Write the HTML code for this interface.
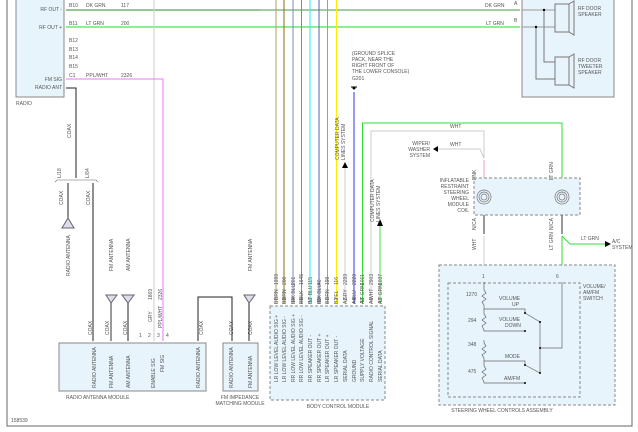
<!DOCTYPE html>
<html><head><meta charset="utf-8"><style>
html,body{margin:0;padding:0;background:#fff;}
svg{display:block;font-family:"Liberation Sans",sans-serif;}
text{font-size:5px;fill:#555;}
</style></head><body>
<svg width="638" height="432" viewBox="0 0 638 432" xmlns="http://www.w3.org/2000/svg">
<polyline points="7,0 7,426 632,426 632,0" fill="none" stroke="#666" stroke-width="1"/>
<rect x="16" y="-2" width="48" height="99" fill="#e8f4fc" stroke="#888"/>
<text x="16" y="105">RADIO</text>
<g text-anchor="end"><text x="62" y="11">RF OUT -</text><text x="62" y="29">RF OUT +</text><text x="62" y="81">FM SIG</text><text x="62" y="89">RADIO ANT</text></g>
<text x="69" y="7">B10</text><text x="86" y="7">DK GRN</text><text x="121" y="7">117</text>
<text x="69" y="25">B11</text><text x="86" y="25">LT GRN</text><text x="121" y="25">200</text>
<text x="69" y="42">B12</text><text x="69" y="51">B13</text><text x="69" y="59">B14</text><text x="69" y="68">B15</text>
<text x="69" y="77">C1</text><text x="86" y="77">PPL/WHT</text><text x="121" y="77">2326</text>
<line x1="66" y1="10" x2="260" y2="10" stroke="#2e8b2e" stroke-width="1"/>
<line x1="260" y1="10" x2="520" y2="10" stroke="#4a9a4a" stroke-width="1"/>
<line x1="66" y1="27" x2="520" y2="27" stroke="#22dd22" stroke-width="1"/>
<text x="485" y="7">DK GRN</text><text x="514" y="5">A</text>
<text x="486" y="25">LT GRN</text><text x="514" y="22">B</text>
<rect x="522" y="-2" width="92" height="99" fill="#e8f4fc" stroke="#888"/>
<polyline points="522,10 555,10" fill="none" stroke="#999"/>
<polyline points="522,27 555,27" fill="none" stroke="#999"/>
<polyline points="544,10 544,62 555,62" fill="none" stroke="#777"/>
<polyline points="536,27 536,79 555,79" fill="none" stroke="#777"/>
<circle cx="544" cy="10" r="1.2" fill="#000"/><circle cx="536" cy="27" r="1.2" fill="#000"/>
<rect x="555" y="4" width="14" height="28" fill="none" stroke="#777"/><polygon points="569,4 574,1 574,35 569,32" fill="none" stroke="#777"/>
<rect x="555" y="57" width="14" height="28" fill="none" stroke="#777"/><polygon points="569,57 574,54 574,88 569,85" fill="none" stroke="#777"/>
<text x="578" y="10">RF DOOR</text><text x="578" y="16">SPEAKER</text>
<text x="578" y="62">RF DOOR</text><text x="578" y="68">TWEETER</text><text x="578" y="74">SPEAKER</text>
<polyline points="66,88 76,88 76,178" fill="none" stroke="#222"/>
<polyline points="55,182 57,180 96,180 98,182" fill="none" stroke="#666" stroke-width="0.6"/>
<line x1="68" y1="183" x2="68" y2="220" stroke="#222"/>
<line x1="93" y1="183" x2="93" y2="341" stroke="#222"/>
<polygon points="62,228 74,228 68,218" fill="#dde" stroke="#666"/>
<polygon points="106,295 117,295 111,303" fill="#dde" stroke="#666"/><line x1="111" y1="303" x2="111" y2="341" stroke="#555" stroke-width="1.2"/>
<polygon points="122,295 134,295 128,303" fill="#dde" stroke="#666"/><line x1="128" y1="303" x2="128" y2="341" stroke="#222"/>
<polygon points="244,295 255,295 249,303" fill="#dde" stroke="#666"/><line x1="249" y1="303" x2="249" y2="341" stroke="#222"/>
<polyline points="198,341 198,297 232,297 232,341" fill="none" stroke="#222"/>
<line x1="154" y1="0" x2="154" y2="341" stroke="#ccc"/>
<polyline points="66,79 163,79 163,341" fill="none" stroke="#ee77ee"/>
<text x="139" y="337">1</text><text x="148" y="337">2</text><text x="157" y="337">3</text><text x="166" y="337">4</text>
<rect x="59" y="343" width="147" height="48" fill="#e8f4fc" stroke="#888"/>
<text x="66" y="399">RADIO ANTENNA MODULE</text>
<rect x="223" y="343" width="35" height="48" fill="#e8f4fc" stroke="#888"/>
<text x="240" y="399" text-anchor="middle">FM IMPEDANCE</text><text x="240" y="405" text-anchor="middle">MATCHING MODULE</text>
<text x="11" y="422">158539</text>
<g stroke-width="1" fill="none">
<line x1="276" y1="0" x2="276" y2="304" stroke="#b89a6a"/>
<line x1="284" y1="0" x2="284" y2="304" stroke="#8b6d14"/>
<line x1="293" y1="0" x2="293" y2="304" stroke="#7a88c8"/>
<line x1="301.5" y1="0" x2="301.5" y2="304" stroke="#888"/>
<line x1="310" y1="0" x2="310" y2="304" stroke="#22eeee"/>
<line x1="319" y1="0" x2="319" y2="304" stroke="#5060b0"/>
<line x1="327.5" y1="0" x2="327.5" y2="304" stroke="#b89a6a"/>
<line x1="336.5" y1="0" x2="336.5" y2="304" stroke="#ffee00"/>
<line x1="345" y1="165" x2="345" y2="304" stroke="#ccc"/>
<line x1="354" y1="92" x2="354" y2="304" stroke="#3333ee"/>
<polyline points="362.5,304 362.5,123 562,123 562,180" stroke="#33dd33"/>
<polyline points="371,304 371,131 484,131 484,158" stroke="#ccc"/>
<line x1="380" y1="225" x2="380" y2="304" stroke="#44dd44"/>
</g>
<polygon points="342,168 348,168 345,162" fill="#000"/><polygon points="377,226 383,226 380,219" fill="#000"/>
<text x="352" y="55">(GROUND SPLICE</text><text x="352" y="61">PACK, NEAR THE</text><text x="352" y="67">RIGHT FRONT OF</text><text x="352" y="73">THE LOWER CONSOLE)</text><text x="352" y="80">G201</text>
<circle cx="354" cy="88" r="1.5" fill="#000"/><line x1="351" y1="87" x2="357" y2="87" stroke="#000"/>
<rect x="270" y="306" width="115" height="94" fill="#e8f4fc" stroke="#888" stroke-dasharray="3,2"/>
<text x="338" y="408" text-anchor="middle">BODY CONTROL MODULE</text>
<polyline points="484,158 480,149 438,149" fill="none" stroke="#ccc"/>
<polygon points="438,146 438,152 433,149" fill="#000"/>
<text x="450" y="128">WHT</text><text x="450" y="146">WHT</text>
<text x="430" y="145" text-anchor="end">WIPER/</text><text x="430" y="151" text-anchor="end">WASHER</text><text x="430" y="157" text-anchor="end">SYSTEM</text>
<line x1="484" y1="160" x2="484" y2="178" stroke="#f4a0b0"/>
<rect x="474" y="178" width="106" height="37" fill="#e8f4fc" stroke="#888" stroke-dasharray="3,2"/>
<g fill="none" stroke="#777" stroke-width="0.7"><circle cx="484" cy="197" r="7"/><circle cx="484" cy="197" r="5"/><circle cx="484" cy="197" r="3"/><circle cx="562" cy="197" r="7"/><circle cx="562" cy="197" r="5"/><circle cx="562" cy="197" r="3"/></g>
<g text-anchor="end"><text x="469" y="182">INFLATABLE</text><text x="469" y="188">RESTRAINT</text><text x="469" y="194">STEERING</text><text x="469" y="200">WHEEL</text><text x="469" y="206">MODULE</text><text x="469" y="212">COIL</text></g>
<line x1="484" y1="215" x2="484" y2="234" stroke="#555" stroke-width="1.2"/>
<line x1="562" y1="215" x2="562" y2="234" stroke="#555" stroke-width="1.2"/>
<line x1="484" y1="236" x2="484" y2="282" stroke="#ccc"/>
<line x1="562" y1="236" x2="562" y2="282" stroke="#33dd33"/>
<polyline points="562,236 570,244 605,244" fill="none" stroke="#33dd33"/>
<polygon points="605,241 605,247 611,244" fill="#000"/>
<text x="581" y="240">LT GRN</text><text x="612" y="243">A/C</text><text x="612" y="249">SYSTEM</text>
<rect x="439" y="265" width="176" height="140" fill="#e8f4fc" stroke="#888" stroke-dasharray="3,2"/>
<rect x="448" y="283" width="132" height="114" fill="none" stroke="#888" stroke-dasharray="3,2"/>
<text x="502" y="412" text-anchor="middle">STEERING WHEEL CONTROLS ASSEMBLY</text>
<text x="482" y="278">1</text><text x="556" y="278">6</text>
<text x="583" y="288">VOLUME/</text><text x="583" y="294">AM/FM</text><text x="583" y="300">SWITCH</text>
<g fill="none" stroke="#666" stroke-width="0.7">
<polyline points="484,282 484,290 486,293 482,296 486,299 482,302 484,305 484,309 525,309 525,313"/>
<polyline points="484,309 484,314 486,317 482,320 486,323 482,326 484,330 484,331 525,331"/>
<polyline points="484,340 484,343 486,346 482,349 486,352 482,355 484,358 484,361 525,361 525,365"/>
<polyline points="484,361 484,366 486,369 482,372 486,375 482,378 484,382 484,383 525,383"/>
<polyline points="525,313 540,322 540,373 525,365"/>
<polyline points="540,348 562,348 562,282"/>
</g>
<g fill="#000"><circle cx="525" cy="313" r="1"/><circle cx="540" cy="322" r="1"/><circle cx="525" cy="331" r="1"/><circle cx="540" cy="348" r="1"/><circle cx="525" cy="365" r="1"/><circle cx="540" cy="373" r="1"/><circle cx="525" cy="383" r="1"/></g>
<text x="466" y="296">1270</text><text x="468" y="322">294</text><text x="468" y="346">348</text><text x="468" y="373">475</text>
<text x="499" y="300">VOLUME</text><text x="512" y="306">UP</text><text x="499" y="321">VOLUME</text><text x="505" y="327">DOWN</text><text x="505" y="358">MODE</text><text x="504" y="380">AM/FM</text>
<!-- rotated texts on top -->
<g transform="rotate(-90)">
<text x="-178" y="61">L/18</text><text x="-178" y="89">L/84</text><text x="-205" y="63">COAX</text><text x="-205" y="90">COAX</text><text x="-138" y="71">COAX</text><text x="-276" y="70">RADIO ANTENNA</text>
<text x="-271" y="113">FM ANTENNA</text><text x="-271" y="130">AM ANTENNA</text><text x="-271" y="252">FM ANTENNA</text>
<text x="-335" y="92">COAX</text><text x="-335" y="109">COAX</text><text x="-335" y="127">COAX</text><text x="-335" y="203">COAX</text><text x="-335" y="233">COAX</text><text x="-335" y="252">COAX</text>
<text x="-322" y="152">GRY</text><text x="-300" y="152">1869</text><text x="-328" y="162">PPL/WHT</text><text x="-300" y="162">2326</text>
<text x="-388" y="96">RADIO ANTENNA</text><text x="-388" y="113">FM ANTENNA</text><text x="-388" y="130">AM ANTENNA</text><text x="-388" y="155">ENABLE SIG</text><text x="-372" y="164">FM SIG</text><text x="-388" y="200">RADIO ANTENNA</text><text x="-388" y="233">RADIO ANTENNA</text><text x="-388" y="252">FM ANTENNA</text>
<text x="-160" y="339">COMPUTER DATA</text><text x="-160" y="345">LINES SYSTEM</text>
<text x="-222" y="374">COMPUTER DATA</text><text x="-222" y="380">LINES SYSTEM</text>
<text x="-285" y="278">1999</text><text x="-285" y="286">200</text><text x="-285" y="295">201</text><text x="-285" y="303">1645</text><text x="-285" y="312">115</text><text x="-285" y="321">46</text><text x="-285" y="329">199</text><text x="-285" y="338">116</text><text x="-285" y="347">2299</text><text x="-285" y="356">2220</text><text x="-285" y="364">1011</text><text x="-285" y="373">2903</text><text x="-285" y="382">1037</text>
<text x="-300" y="278">BRN</text><text x="-300" y="286">BRN</text><text x="-302" y="295">DK BLU</text><text x="-300" y="303">BLK</text><text x="-302" y="312">LT BLU</text><text x="-302" y="321">DK BLU</text><text x="-300" y="329">BRN</text><text x="-300" y="338">YEL</text><text x="-300" y="347">GRY</text><text x="-300" y="356">BLU</text><text x="-302" y="364">LT GRN</text><text x="-300" y="373">WHT</text><text x="-302" y="382">LT GRN</text>
<text x="-304" y="278">B7</text><text x="-304" y="286">B3</text><text x="-304" y="295">B4</text><text x="-304" y="303">B5</text><text x="-304" y="312">B6</text><text x="-304" y="321">B8</text><text x="-304" y="329">B1</text><text x="-304" y="338">B2</text><text x="-304" y="347">A2</text><text x="-304" y="356">A4</text><text x="-304" y="364">A8</text><text x="-304" y="373">A6</text><text x="-304" y="382">A1</text>
<text x="-382" y="278">LR LOW LEVEL AUDIO SIG +</text><text x="-382" y="286">LR LOW LEVEL AUDIO SIG -</text><text x="-382" y="295">RR LOW LEVEL AUDIO SIG +</text><text x="-382" y="303">RR LOW LEVEL AUDIO SIG -</text><text x="-382" y="312">RR SPEAKER OUT -</text><text x="-382" y="321">RR SPEAKER OUT +</text><text x="-382" y="329">LR SPEAKER OUT +</text><text x="-382" y="338">LR SPEAKER OUT -</text><text x="-382" y="347">SERIAL DATA</text><text x="-382" y="356">GROUND</text><text x="-382" y="364">SUPPLY VOLTAGE</text><text x="-382" y="373">RADIO CONTROL SIGNAL</text><text x="-382" y="382">SERIAL DATA</text>
<text x="-180" y="476">PNK</text><text x="-180" y="553">LT GRN</text><text x="-230" y="476">N/CA</text><text x="-230" y="553">N/CA</text><text x="-250" y="476">WHT</text><text x="-250" y="553">LT GRN</text>
</g>
</svg>
</body></html>
